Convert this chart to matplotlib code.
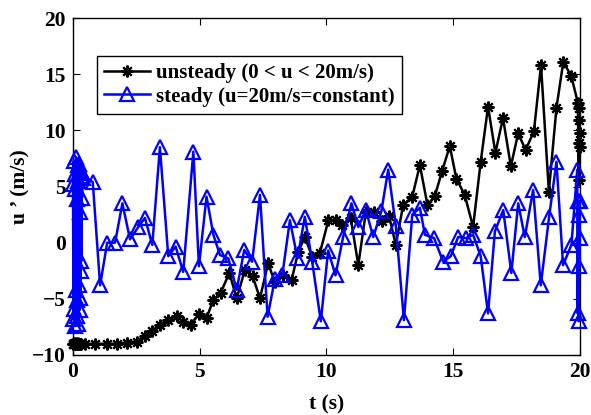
import numpy as np
import matplotlib
matplotlib.use('Agg')
import matplotlib.pyplot as plt

# unsteady run (0 < u < 20 m/s)
t_unsteady = [0.00, 0.02, 0.04, 0.06, 0.08, 0.10, 0.12, 0.15, 0.18, 0.21, 0.24, 0.27, 0.30,
              0.47, 0.87, 1.33, 1.72, 2.12, 2.51, 2.84, 3.10, 3.43, 3.76, 4.09, 4.35, 4.64,
              4.97, 5.27, 5.54, 5.83, 6.17, 6.46, 6.79, 7.09, 7.38, 7.70, 7.97, 8.30, 8.63,
              8.89, 9.15, 9.44, 9.74, 10.08, 10.36, 10.62, 10.96, 11.26, 11.56, 11.89, 12.18,
              12.47, 12.74, 13.03, 13.39, 13.69, 13.99, 14.28, 14.57, 14.87, 15.13, 15.46,
              15.79, 16.09, 16.38, 16.67, 16.97, 17.28, 17.57, 17.86, 18.19, 18.47, 18.78,
              19.08, 19.35, 19.67, 19.93, 19.95, 19.96, 19.97, 19.98, 19.99, 20.00]
u_unsteady = [-9.0, -9.05, -8.95, -9.0, -9.05, -8.95, -9.0, -9.05, -9.0, -8.95, -9.0, -9.05, -9.0,
              -9.0, -9.0, -9.0, -9.0, -8.9, -8.8, -8.3, -7.9, -7.3, -6.9, -6.5, -7.1, -7.3,
              -6.35, -6.7, -5.1, -4.45, -2.7, -4.95, -2.4, -3.0, -4.95, -1.85, -3.5, -2.9, -3.3,
              -0.8, 0.5, -1.25, -0.95, 2.0, 2.0, 1.6, 2.2, -2.0, 2.75, 2.75, 1.9,
              2.4, -0.2, 3.35, 4.1, 6.9, 3.35, 4.15, 6.4, 8.6, 5.7, 4.25,
              1.4, 7.2, 12.1, 8.0, 11.1, 6.8, 9.75, 8.25, 9.9, 15.8, 4.55,
              12.0, 16.1, 14.8, 12.4, 5.6, 12.0, 8.9, 10.9, 8.5, 9.75]

# steady run (u = 20 m/s = constant)
t_steady = [0.00, 0.02, 0.03, 0.05, 0.06, 0.08, 0.09, 0.11, 0.12, 0.14, 0.15, 0.17, 0.18,
            0.20, 0.21, 0.23, 0.24, 0.26, 0.27, 0.29, 0.30, 0.31, 0.32, 0.33, 0.34, 0.35,
            0.40, 0.78, 1.07, 1.35, 1.66, 1.95, 2.25, 2.58, 2.84, 3.13, 3.43, 3.76, 4.05,
            4.35, 4.75, 4.97, 5.27, 5.54, 5.80, 6.13, 6.46, 6.76, 7.07, 7.38, 7.68, 7.97,
            8.26, 8.56, 8.86, 9.15, 9.44, 9.78, 10.07, 10.36, 10.66, 10.99, 11.26, 11.56,
            11.85, 12.17, 12.44, 12.74, 13.06, 13.39, 13.69, 13.89, 14.25, 14.61, 14.91,
            15.20, 15.50, 15.79, 16.09, 16.38, 16.65, 16.98, 17.30, 17.57, 17.83, 18.16,
            18.46, 18.79, 19.08, 19.34, 19.67, 19.90, 19.92, 19.94, 19.96, 19.97, 19.98,
            19.99, 20.00]
u_steady = [5.2, -6.8, 7.3, -5.9, 6.1, -7.4, 4.8, -4.2, 7.6, -6.5, 3.9, -5.1, 6.9,
            -7.2, 5.5, -3.8, 7.0, -6.0, 2.7, -4.9, 6.4, -2.5, 5.9, -1.6, 6.2, 4.0,
            5.8, 5.4, -3.8, 0.0, 0.0, 3.5, 0.3, 1.4, 2.2, -0.2, 8.5, -1.2, -0.35,
            -2.6, 8.1, -2.1, 4.1, 0.7, -1.1, -1.4, -4.2, -0.65, -1.7, 4.25, -6.6, -3.2,
            -2.9, 2.0, -1.4, 2.3, -1.7, -7.0, -0.7, -2.9, 0.5, 3.5, 1.4, 2.9,
            0.5, 2.8, 6.5, 1.5, -6.9, 2.5, 3.1, 0.7, 0.4, -1.7, -1.2,
            0.5, 0.4, 0.7, -1.2, -6.3, 1.0, 2.9, -2.7, 3.5, 0.5, 4.7,
            -3.8, 2.3, 7.2, -2.0, -0.2, 6.5, -6.3, 3.7, -7.0, 2.5, -2.1,
            0.4, 3.7]

plt.rcParams['font.family'] = ['Liberation Serif', 'DejaVu Serif']
plt.rcParams['font.weight'] = 'bold'

fig = plt.figure(figsize=(5.91, 4.15), dpi=100)
ax = fig.add_axes([0.1235, 0.1446, 0.8575, 0.812])

ax.plot(t_unsteady, u_unsteady, color='black', lw=1.8, marker=(8, 2, 0),
        ms=8.5, mew=1.5, label='unsteady (0 < u < 20m/s)', zorder=2, clip_on=False)
ax.plot(t_steady, u_steady, color='#0000ff', lw=1.8, marker='^', ms=9.5,
        mfc='none', mec='#0000ff', mew=1.6, label='steady (u=20m/s=constant)',
        zorder=3, clip_on=False)

ax.set_xlim(0, 20)
ax.set_ylim(-10, 20)
ax.set_xticks([0, 5, 10, 15, 20])
ax.set_yticks([-10, -5, 0, 5, 10, 15, 20])
ax.tick_params(direction='in', top=True, right=True, length=5, width=0.8,
               labelsize=15.5, pad=5)
for lab in ax.get_xticklabels() + ax.get_yticklabels():
    lab.set_fontweight('bold')
for s in ax.spines.values():
    s.set_linewidth(1.0)

ax.set_xlabel('t (s)', fontsize=15.5, fontweight='bold', labelpad=9)
ax.set_ylabel('u \u2019 (m/s)', fontsize=15.5, fontweight='bold', labelpad=1)

leg = ax.legend(loc='upper left', bbox_to_anchor=(0.047, 0.887), borderaxespad=0,
                frameon=True, fancybox=False, edgecolor='black', framealpha=1,
                handlelength=2.2, handletextpad=0.3, borderpad=0.35, labelspacing=0.15,
                prop={'weight': 'bold', 'size': 15})
leg.get_frame().set_linewidth(1.0)

fig.savefig('out.png', dpi=100)
